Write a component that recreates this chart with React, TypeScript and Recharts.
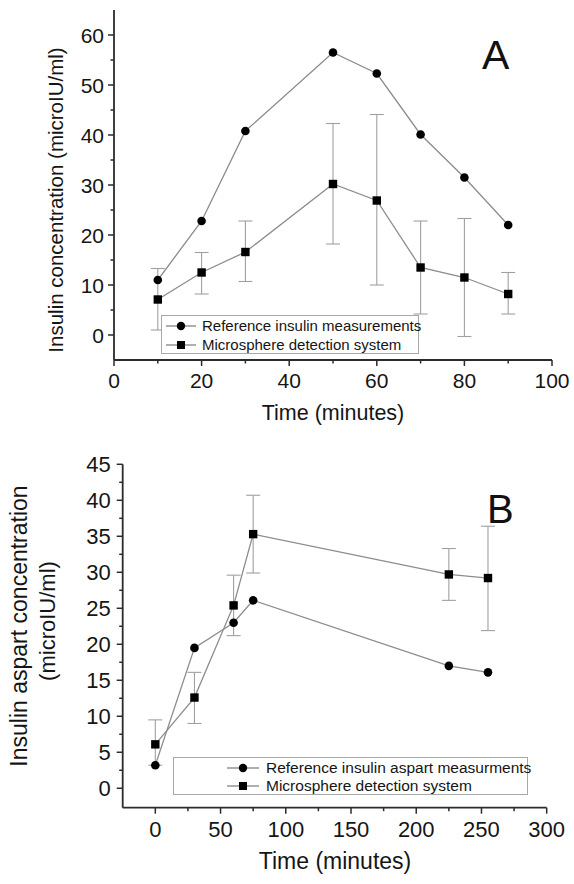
import React from 'react';
import { LineChart, Line, XAxis, YAxis, ErrorBar, Legend, Label, Customized } from 'recharts';

// ---------- Data: panel A ----------
const timeA = [10, 20, 30, 50, 60, 70, 80, 90];
const refA = [11.0, 22.8, 40.8, 56.5, 52.3, 40.1, 31.5, 22.0];
const micA = [7.1, 12.5, 16.6, 30.2, 26.9, 13.5, 11.5, 8.2];
const micALow = [1.0, 8.2, 10.7, 18.2, 10.0, 4.2, -0.3, 4.2];
const micAHigh = [13.3, 16.5, 22.8, 42.3, 44.1, 22.8, 23.3, 12.5];

const xTicksA = [0, 10, 20, 30, 40, 50, 60, 70, 80, 90, 100];
const xMajorA = [0, 20, 40, 60, 80, 100];
const yTicksA = [0, 5, 10, 15, 20, 25, 30, 35, 40, 45, 50, 55, 60];
const yMajorA = [0, 10, 20, 30, 40, 50, 60];

// ---------- Data: panel B ----------
const timeB = [0, 30, 60, 75, 225, 255];
const refB = [3.2, 19.5, 23.0, 26.1, 17.0, 16.1];
const micB = [6.1, 12.6, 25.4, 35.3, 29.7, 29.2];
const micBLow = [3.2, 9.0, 21.2, 29.9, 26.1, 21.9];
const micBHigh = [9.5, 16.1, 29.6, 40.7, 33.3, 36.4];

const xTicksB = [0, 25, 50, 75, 100, 125, 150, 175, 200, 225, 250, 275, 300];
const xMajorB = [0, 50, 100, 150, 200, 250, 300];
const yTicksB = [0, 2.5, 5, 7.5, 10, 12.5, 15, 17.5, 20, 22.5, 25, 27.5, 30, 32.5, 35, 37.5, 40, 42.5, 45];
const yMajorB = [0, 5, 10, 15, 20, 25, 30, 35, 40, 45];

const nameRefA = 'Reference insulin measurements';
const nameRefB = 'Reference insulin aspart measurments';
const nameMic = 'Microsphere detection system';

const dataA = timeA.map((t, i) => ({
  t,
  ref: refA[i],
  mic: micA[i],
  micErr: [micA[i] - micALow[i], micAHigh[i] - micA[i]],
}));
const dataB = timeB.map((t, i) => ({
  t,
  ref: refB[i],
  mic: micB[i],
  micErr: [micB[i] - micBLow[i], micBHigh[i] - micB[i]],
}));

// ---------- Styling ----------
const FONT = '"Liberation Sans", Arial, Helvetica, sans-serif';
const AXIS = '#2b2b2b';
const SERIES = '#8c8c8c';
const ERR = '#a0a0a0';
const TXT = '#151515';

type Side = 'bottom' | 'top' | 'left' | 'right';

const makeTick = (side: Side, majors: number[], fontSize: number, gap: number, showLabel: boolean) =>
  (props: any) => {
    const { x, y, payload } = props;
    const v = payload.value;
    const isMajor = majors.some((m) => Math.abs(m - v) < 1e-9);
    const len = isMajor ? 6 : 3.5;
    let line: any = null;
    let text: any = null;
    if (side === 'bottom') {
      line = <line x1={x} x2={x} y1={y} y2={y + len} stroke={AXIS} strokeWidth={1.5} />;
      if (showLabel && isMajor)
        text = (
          <text x={x} y={y + gap} textAnchor="middle" fontSize={fontSize} fontFamily={FONT} fill={TXT}>
            {v}
          </text>
        );
    } else if (side === 'top') {
      line = <line x1={x} x2={x} y1={y} y2={y + len} stroke={AXIS} strokeWidth={1.5} />;
    } else if (side === 'left') {
      line = <line x1={x - len} x2={x} y1={y} y2={y} stroke={AXIS} strokeWidth={1.5} />;
      if (showLabel && isMajor)
        text = (
          <text x={x - gap} y={y} dy="0.36em" textAnchor="end" fontSize={fontSize} fontFamily={FONT} fill={TXT}>
            {v}
          </text>
        );
    } else {
      line = <line x1={x - len} x2={x} y1={y} y2={y} stroke={AXIS} strokeWidth={1.5} />;
    }
    return (
      <g>
        {line}
        {text}
      </g>
    );
  };

const circleDot = (props: any) => {
  const { cx, cy, index } = props;
  if (cx == null || cy == null) return <g key={`c${index}`} />;
  return <circle key={`c${index}`} cx={cx} cy={cy} r={4.3} fill="#000" stroke="none" />;
};
const squareDot = (props: any) => {
  const { cx, cy, index } = props;
  if (cx == null || cy == null) return <g key={`s${index}`} />;
  return <rect key={`s${index}`} x={cx - 4.2} y={cy - 4.2} width={8.4} height={8.4} fill="#000" stroke="none" />;
};

type LegendCfg = { w: number; h: number; row1: number; row2: number; lineX1: number; lineX2: number; textX: number; fontSize: number };

const seriesOrder = ['ref', 'mic'];

const makeLegend = (cfg: LegendCfg) => (props: any) => {
  const payload = ([...(props.payload || [])] as any[]).sort(
    (a, b) => seriesOrder.indexOf(a.dataKey) - seriesOrder.indexOf(b.dataKey)
  );
  const rows = [cfg.row1, cfg.row2];
  return (
    <div
      style={{
        width: cfg.w,
        height: cfg.h,
        border: '1.5px solid #a8a8a8',
        boxSizing: 'border-box',
        background: '#fff',
        position: 'relative',
        fontFamily: FONT,
      }}
    >
      {payload.map((p: any, i: number) => {
        const isSquare = p.dataKey === 'mic';
        const mid = (cfg.lineX1 + cfg.lineX2) / 2;
        return (
          <div key={i} style={{ position: 'absolute', left: 0, top: rows[i] - 10, height: 20, width: cfg.w }}>
            <svg width={cfg.lineX2 + 2} height={20} style={{ position: 'absolute', left: 0, top: 0 }}>
              <line x1={cfg.lineX1} x2={cfg.lineX2} y1={10} y2={10} stroke="#7a7a7a" strokeWidth={1.2} />
              {isSquare ? (
                <rect x={mid - 4} y={6} width={8} height={8} fill="#000" />
              ) : (
                <circle cx={mid} cy={10} r={4.2} fill="#000" />
              )}
            </svg>
            <span
              style={{
                position: 'absolute',
                left: cfg.textX,
                top: 0,
                lineHeight: '20px',
                fontSize: cfg.fontSize,
                color: TXT,
                whiteSpace: 'nowrap',
              }}
            >
              {p.value}
            </span>
          </div>
        );
      })}
    </div>
  );
};

const legendA = makeLegend({ w: 258, h: 39, row1: 10, row2: 28.5, lineX1: 4, lineX2: 34, textX: 40, fontSize: 15 });
const legendB = makeLegend({ w: 355, h: 38, row1: 9.5, row2: 28, lineX1: 53, lineX2: 85, textX: 92, fontSize: 15.5 });

export default function App() {
  return (
    <div style={{ position: 'absolute', left: 0, top: 0, width: 574, height: 884, background: '#fff' }}>
      {/* Panel A */}
      <div style={{ position: 'absolute', left: 0, top: 0 }}>
        <LineChart width={574} height={440} data={dataA} margin={{ top: 10, right: 22, bottom: 0, left: 0 }}>
          <XAxis
            xAxisId="b"
            dataKey="t"
            type="number"
            domain={[0, 100]}
            ticks={xTicksA}
            interval={0}
            allowDataOverflow
            height={80}
            tickSize={0}
            tickMargin={0}
            tickLine={false}
            axisLine={{ stroke: AXIS, strokeWidth: 1.8 }}
            tick={makeTick('bottom', xMajorA, 21, 28, true)}
          >
            <Label
              content={() => (
                <text x={333} y={420} textAnchor="middle" fontSize={21.5} fontFamily={FONT} fill={TXT}>
                  Time (minutes)
                </text>
              )}
            />
          </XAxis>
          <XAxis
            xAxisId="t"
            orientation="top"
            mirror
            type="number"
            domain={[0, 100]}
            ticks={xTicksA}
            interval={0}
            allowDataOverflow
            height={0}
            tickSize={0}
            tickMargin={0}
            tickLine={false}
            axisLine={{ stroke: AXIS, strokeWidth: 1.8 }}
            tick={makeTick('top', xMajorA, 20, 0, false)}
          />
          <YAxis
            yAxisId="l"
            type="number"
            domain={[-5, 65]}
            ticks={yTicksA}
            interval={0}
            allowDataOverflow
            width={114}
            tickSize={0}
            tickMargin={0}
            tickLine={false}
            axisLine={{ stroke: AXIS, strokeWidth: 1.8 }}
            tick={makeTick('left', yMajorA, 21, 10, true)}
          >
            <Label
              content={() => (
                <text
                  x={56}
                  y={200}
                  dy="0.36em"
                  transform="rotate(-90 56 200)"
                  textAnchor="middle"
                  fontSize={20.5}
                  fontFamily={FONT}
                  fill={TXT}
                >
                  Insulin concentration (microIU/ml)
                </text>
              )}
            />
          </YAxis>
          <YAxis
            yAxisId="r"
            orientation="right"
            mirror
            type="number"
            domain={[-5, 65]}
            ticks={yTicksA}
            interval={0}
            allowDataOverflow
            width={0}
            tickSize={0}
            tickMargin={0}
            tickLine={false}
            axisLine={{ stroke: AXIS, strokeWidth: 1.8 }}
            tick={makeTick('right', yMajorA, 20, 0, false)}
          />
          <Line
            xAxisId="b"
            yAxisId="l"
            dataKey="ref"
            name={nameRefA}
            stroke={SERIES}
            strokeWidth={1.3}
            dot={circleDot}
            activeDot={false}
            isAnimationActive={false}
          />
          <Line
            xAxisId="b"
            yAxisId="l"
            dataKey="mic"
            name={nameMic}
            stroke={SERIES}
            strokeWidth={1.3}
            dot={squareDot}
            activeDot={false}
            isAnimationActive={false}
          >
            <ErrorBar dataKey="micErr" direction="y" width={7} stroke={ERR} strokeWidth={1.1} isAnimationActive={false} />
          </Line>
          <Legend
            layout="vertical"
            align="center"
            verticalAlign="middle"
            content={legendA}
            wrapperStyle={{ left: 161, top: 315, width: 258, height: 39 }}
          />
          <Customized
            component={() => (
              <text x={482} y={68.5} fontSize={41} fontFamily={FONT} fill="#111">
                A
              </text>
            )}
          />
        </LineChart>
      </div>

      {/* Panel B */}
      <div style={{ position: 'absolute', left: 0, top: 440 }}>
        <LineChart width={574} height={444} data={dataB} margin={{ top: 24.3, right: 27.3, bottom: 0, left: 0 }}>
          <XAxis
            xAxisId="b"
            dataKey="t"
            type="number"
            domain={[-25, 300]}
            ticks={xTicksB}
            interval={0}
            allowDataOverflow
            height={76.3}
            tickSize={0}
            tickMargin={0}
            tickLine={false}
            axisLine={{ stroke: AXIS, strokeWidth: 1.8 }}
            tick={makeTick('bottom', xMajorB, 22, 29, true)}
          >
            <Label
              content={() => (
                <text x={335} y={429} textAnchor="middle" fontSize={23} fontFamily={FONT} fill={TXT}>
                  Time (minutes)
                </text>
              )}
            />
          </XAxis>
          <XAxis
            xAxisId="t"
            orientation="top"
            mirror
            type="number"
            domain={[-25, 300]}
            ticks={xTicksB}
            interval={0}
            allowDataOverflow
            height={0}
            tickSize={0}
            tickMargin={0}
            tickLine={false}
            axisLine={{ stroke: AXIS, strokeWidth: 1.8 }}
            tick={makeTick('top', xMajorB, 20, 0, false)}
          />
          <YAxis
            yAxisId="l"
            type="number"
            domain={[-2.7, 45]}
            ticks={yTicksB}
            interval={0}
            allowDataOverflow
            width={122.7}
            tickSize={0}
            tickMargin={0}
            tickLine={false}
            axisLine={{ stroke: AXIS, strokeWidth: 1.8 }}
            tick={makeTick('left', yMajorB, 22, 12, true)}
          >
            <Label
              content={() => (
                <g>
                  <text
                    x={19}
                    y={186}
                    dy="0.36em"
                    transform="rotate(-90 19 186)"
                    textAnchor="middle"
                    fontSize={23}
                    fontFamily={FONT}
                    fill={TXT}
                  >
                    Insulin aspart concentration
                  </text>
                  <text
                    x={47.5}
                    y={181}
                    dy="0.36em"
                    transform="rotate(-90 47.5 181)"
                    textAnchor="middle"
                    fontSize={22}
                    fontFamily={FONT}
                    fill={TXT}
                  >
                    (microIU/ml)
                  </text>
                </g>
              )}
            />
          </YAxis>
          <YAxis
            yAxisId="r"
            orientation="right"
            mirror
            type="number"
            domain={[-2.7, 45]}
            ticks={yTicksB}
            interval={0}
            allowDataOverflow
            width={0}
            tickSize={0}
            tickMargin={0}
            tickLine={false}
            axisLine={{ stroke: AXIS, strokeWidth: 1.8 }}
            tick={makeTick('right', yMajorB, 20, 0, false)}
          />
          <Line
            xAxisId="b"
            yAxisId="l"
            dataKey="ref"
            name={nameRefB}
            stroke={SERIES}
            strokeWidth={1.3}
            dot={circleDot}
            activeDot={false}
            isAnimationActive={false}
          />
          <Line
            xAxisId="b"
            yAxisId="l"
            dataKey="mic"
            name={nameMic}
            stroke={SERIES}
            strokeWidth={1.3}
            dot={squareDot}
            activeDot={false}
            isAnimationActive={false}
          >
            <ErrorBar dataKey="micErr" direction="y" width={7} stroke={ERR} strokeWidth={1.1} isAnimationActive={false} />
          </Line>
          <Legend
            layout="vertical"
            align="center"
            verticalAlign="middle"
            content={legendB}
            wrapperStyle={{ left: 173, top: 317, width: 355, height: 38 }}
          />
          <Customized
            component={() => (
              <text x={487} y={83.3} fontSize={40} fontFamily={FONT} fill="#111">
                B
              </text>
            )}
          />
        </LineChart>
      </div>
    </div>
  );
}
